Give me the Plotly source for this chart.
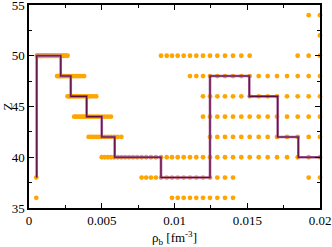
import plotly.graph_objects as go

# sampled densities (fm^-3) shared by all rows of the scan
rho_grid = [
    0.000500, 0.000520, 0.000541, 0.000563, 0.000586, 0.000610, 0.000635, 0.000660,
    0.000687, 0.000715, 0.000744, 0.000774, 0.000805, 0.000838, 0.000872, 0.000907,
    0.000944, 0.000982, 0.001022, 0.001063, 0.001106, 0.001151, 0.001198, 0.001246,
    0.001297, 0.001349, 0.001404, 0.001461, 0.001520, 0.001581, 0.001645, 0.001712,
    0.001781, 0.001854, 0.001929, 0.002007, 0.002088, 0.002173, 0.002261, 0.002352,
    0.002448, 0.002547, 0.002650, 0.002757, 0.002869, 0.002985, 0.003106, 0.003232,
    0.003363, 0.003499, 0.003641, 0.003788, 0.003941, 0.004101, 0.004267, 0.004440,
    0.004620, 0.004807, 0.005002, 0.005204, 0.005415, 0.005634, 0.005862, 0.006100,
    0.006347, 0.006604, 0.006871, 0.007150, 0.007439, 0.007740, 0.008054, 0.008380,
    0.008719, 0.009072, 0.009464, 0.009828, 0.010220, 0.010632, 0.011065, 0.011498,
    0.011959, 0.012440, 0.012942, 0.013471, 0.014021, 0.014591, 0.015168, 0.015787,
    0.016405, 0.017045, 0.017732, 0.018467, 0.019223, 0.020000,
]

# orange dots: each segment = Z value and density range covered
seg_z    = [54, 52, 50, 50, 50, 48, 48, 46, 46, 44, 44, 42, 42, 40, 38, 38, 38, 36, 36]
seg_from = [0.0192, 0.0200, 0.00053, 0.0090, 0.0184, 0.0019, 0.0110, 0.0026, 0.0119,
            0.0031, 0.0119, 0.0040, 0.0124, 0.0050, 0.0005, 0.0077, 0.0192, 0.0005, 0.0098]
seg_to   = [0.0200, 0.0200, 0.00266, 0.0152, 0.0200, 0.0039, 0.0200, 0.0047, 0.0200,
            0.0058, 0.0200, 0.0066, 0.0200, 0.0200, 0.0005, 0.0141, 0.0200, 0.0005, 0.0141]

# step line (optimal Z vs density)
step_rho = [0.00053, 0.00053, 0.00218, 0.00287, 0.00396, 0.0050, 0.00589, 0.00907,
            0.01244, 0.01514, 0.01709, 0.01851, 0.0200]
step_z   = [38, 50, 48, 46, 44, 42, 40, 38, 48, 46, 42, 40, 40]

x_tickvals = [0, 0.005, 0.01, 0.015, 0.02]
x_ticktext = ["0", "0.005", "0.01", "0.015", "0.02"]
y_tickvals = [35, 40, 45, 50, 55]

dot_x, dot_y = [], []
for z, a, b in zip(seg_z, seg_from, seg_to):
    for r in rho_grid:
        if a - 1e-7 <= r <= b + 1e-7:
            dot_x.append(r)
            dot_y.append(z)

fig = go.Figure()
fig.add_trace(go.Scatter(x=dot_x, y=dot_y, mode="markers",
                         marker=dict(color="#FFA500", size=4.8, line=dict(width=0)),
                         cliponaxis=False, showlegend=False))
fig.add_trace(go.Scatter(x=step_rho, y=step_z, mode="lines", line_shape="hv",
                         line=dict(color="#a8629a", width=2.6),
                         cliponaxis=False, showlegend=False))
fig.add_trace(go.Scatter(x=step_rho, y=step_z, mode="lines", line_shape="hv",
                         line=dict(color="#5e0c3e", width=1.1),
                         cliponaxis=False, showlegend=False))

font = dict(family="Liberation Serif", size=13, color="black")
axis_common = dict(showgrid=False, zeroline=False, showline=True, linecolor="black",
                   linewidth=1.5, mirror="allticks", ticks="inside", ticklen=5,
                   tickwidth=1.3, tickcolor="black", tickfont=font, automargin=False,
                   ticklabeloverflow="allow")

fig.update_xaxes(range=[0, 0.02], tickvals=x_tickvals, ticktext=x_ticktext,
                 minor=dict(ticks="inside", ticklen=3, tickwidth=1.2, tickcolor="black",
                            tickvals=[0.0025, 0.0075, 0.0125, 0.0175]),
                 title=dict(text="ρ<sub>b</sub> [fm<sup>-3</sup>]", font=font, standoff=8),
                 **axis_common)
fig.update_yaxes(range=[35, 55], tickvals=y_tickvals,
                 minor=dict(ticks="inside", ticklen=3, tickwidth=1.2, tickcolor="black",
                            tickvals=[37.5, 42.5, 47.5, 52.5]),
                 title=dict(text="Z", font=font, standoff=0),
                 **axis_common)

fig.update_layout(width=332, height=247, margin=dict(l=29, r=12, t=5, b=39),
                  paper_bgcolor="white", plot_bgcolor="white", font=font)

fig.write_html("out.html", config={"displayModeBar": False},
               post_script="document.body.style.margin='0px';document.body.style.padding='0px';")
